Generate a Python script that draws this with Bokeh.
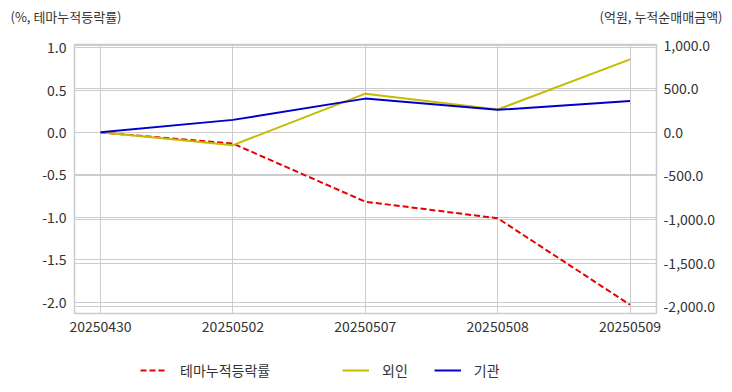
from bokeh.plotting import figure
from bokeh.layouts import column
from bokeh.models import (Range1d, LinearAxis, FixedTicker, NumeralTickFormatter,
                          Grid, Legend, LegendItem, ColumnDataSource)
from bokeh.core.properties import value
from bokeh.embed import file_html
from bokeh.resources import INLINE

dates = ["20250430", "20250502", "20250507", "20250508", "20250509"]
theme_pct = [0.0, -0.13, -0.815, -1.01, -2.03]
foreign = [0.0, -147.0, 444.0, 262.0, 838.0]
institution = [0.0, 143.0, 387.0, 258.0, 361.0]
left_title = "(%, 테마누적등락률)"
right_title = "(억원, 누적순매매금액)"
series_names = ["테마누적등락률", "외인", "기관"]

FONT = "Noto Sans CJK KR"
W = 724
HEAD_H = 34
idx = list(range(len(dates)))
src = ColumnDataSource(dict(x=idx, theme=theme_pct, foreign=foreign, inst=institution))

# ---------- header with the two axis titles ----------
head = figure(width=W, height=HEAD_H, output_backend="svg", toolbar_location=None,
              x_range=Range1d(0, W), y_range=Range1d(0, HEAD_H),
              x_axis_location=None, y_axis_location=None,
              min_border=0, outline_line_color=None, frame_align=False)
head.grid.visible = False
head.text(x=[10], y=[HEAD_H - 16], text=[left_title], text_font=value(FONT),
          text_font_size="13px", text_color="#333333", text_baseline="middle",
          text_align="left")
head.text(x=[722], y=[HEAD_H - 16], text=[right_title], text_font=value(FONT),
          text_font_size="13px", text_color="#333333", text_baseline="middle",
          text_align="right")

# ---------- main chart ----------
p = figure(width=W, height=304, output_backend="svg", toolbar_location=None,
           x_range=Range1d(-0.197, len(dates) - 1 + 0.2),
           y_range=Range1d(-2.133, 1.038), frame_align=False,
           min_border_left=74, min_border_right=68, min_border_top=44 - HEAD_H,
           min_border_bottom=25)
p.extra_y_ranges = {"right": Range1d(-2079, 1008)}

p.outline_line_color = "#cccccc"
p.outline_line_width = 1.5

p.xaxis.ticker = FixedTicker(ticks=idx)
p.xaxis.major_label_overrides = {i: d for i, d in enumerate(dates)}
p.yaxis.ticker = FixedTicker(ticks=[-2.0, -1.5, -1.0, -0.5, 0.0, 0.5, 1.0])
p.yaxis.formatter = NumeralTickFormatter(format="0.0")
raxis = LinearAxis(y_range_name="right",
                   ticker=FixedTicker(ticks=[-2000, -1500, -1000, -500, 0, 500, 1000]),
                   formatter=NumeralTickFormatter(format="0,0.0"))
p.add_layout(raxis, "right")
for ax in [p.xaxis[0], p.yaxis[0], raxis]:
    ax.axis_line_color = None
    ax.major_tick_line_color = None
    ax.minor_tick_line_color = None
    ax.major_label_text_font = FONT
    ax.major_label_text_font_size = "14px"
    ax.major_label_text_color = "#333333"
p.xaxis[0].major_label_standoff = 1
p.yaxis[0].major_label_standoff = 2
raxis.major_label_standoff = 1

p.xgrid.grid_line_color = "#cccccc"
p.ygrid.grid_line_color = "#cccccc"
p.add_layout(Grid(dimension=1, ticker=raxis.ticker, y_range_name="right",
                  grid_line_color="#cccccc"))

styles = [dict(line_color="#e60000", line_width=2, line_dash="6 3"),
          dict(line_color="#c4bc00", line_width=2),
          dict(line_color="#0000cc", line_width=2)]
p.line("x", "theme", source=src, **styles[0])
p.line("x", "foreign", source=src, y_range_name="right", **styles[1])
p.line("x", "inst", source=src, y_range_name="right", **styles[2])

# ---------- footer legend ----------
FOOT_H = 384 - HEAD_H - 304
foot = figure(width=W, height=FOOT_H, output_backend="svg", toolbar_location=None,
              x_range=Range1d(0, W), y_range=Range1d(0, FOOT_H),
              x_axis_location=None, y_axis_location=None,
              min_border=0, outline_line_color=None, frame_align=False)
foot.grid.visible = False
empty = ColumnDataSource(dict(x=[float("nan")], y=[float("nan")]))
lr = [foot.line("x", "y", source=empty, **s) for s in styles]
common = dict(orientation="horizontal", label_text_font=FONT, label_text_font_size="14px",
              label_text_color="#333333", glyph_width=27, glyph_height=20, label_height=20,
              label_standoff=13, padding=0, margin=0, border_line_color=None,
              background_fill_alpha=0)
leg_y = FOOT_H - (370 - 338) - 10
foot.add_layout(Legend(items=[LegendItem(label=series_names[0], renderers=[lr[0]])],
                       location=(140, leg_y), **common))
foot.add_layout(Legend(items=[LegendItem(label=series_names[1], renderers=[lr[1]]),
                              LegendItem(label=series_names[2], renderers=[lr[2]])],
                       location=(342, leg_y), spacing=26, **common))

layout = column(head, p, foot, spacing=0)
open("out.html", "w").write(file_html(layout, INLINE))
